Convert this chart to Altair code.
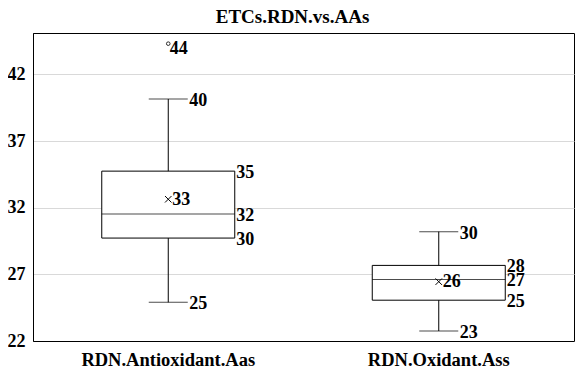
import altair as alt
import pandas as pd

# ---- data ----
categories = ["RDN.Antioxidant.Aas", "RDN.Oxidant.Ass"]
whisker_low = [24.9, 22.75]
q1 = [29.72, 25.06]
median = [31.53, 26.62]
q3 = [34.74, 27.67]
whisker_high = [40.15, 30.2]
means = [32.63, 26.45]
outlier_cat = ["RDN.Antioxidant.Aas"]
outlier_val = [44.3]

y_ticks = [22, 27, 32, 37, 42]
y_domain = [22, 45.1]
title_text = "ETCs.RDN.vs.AAs"

FONT = "Liberation Serif"

df = pd.DataFrame({
    "cat": categories,
    "lower": whisker_low,
    "q1": q1,
    "median": median,
    "q3": q3,
    "upper": whisker_high,
    "mean": means,
})
out_df = pd.DataFrame({"cat": outlier_cat, "value": outlier_val})

x = alt.X("cat:N", sort=categories,
          scale=alt.Scale(paddingInner=0, paddingOuter=0),
          axis=alt.Axis(title=None, labelAngle=0, ticks=False, grid=False,
                        domainColor="black", labelPadding=9, labelFontSize=18.5))
yscale = alt.Scale(domain=y_domain, nice=False, zero=False)
yaxis = alt.Axis(title=None, values=y_ticks, ticks=False, grid=True,
                 gridColor="#d9d9d9", domainColor="black", labelPadding=8,
                 format="d", labelFontSize=18)

base = alt.Chart(df)

box = base.mark_bar(size=133, fill="white", stroke="black", strokeWidth=1).encode(
    x=x, y=alt.Y("q1:Q", scale=yscale, axis=yaxis), y2="q3:Q")
med = base.mark_tick(size=133, thickness=1, color="black").encode(x=x, y="median:Q")
wl = base.mark_rule(color="black", strokeWidth=1).encode(x=x, y="lower:Q", y2="q1:Q")
wh = base.mark_rule(color="black", strokeWidth=1).encode(x=x, y="q3:Q", y2="upper:Q")
cap_l = base.mark_tick(size=39, thickness=1, color="black").encode(x=x, y="lower:Q")
cap_h = base.mark_tick(size=39, thickness=1, color="black").encode(x=x, y="upper:Q")
mean_pt = base.mark_point(shape="M-1,-1L1,1M-1,1L1,-1", size=42, filled=False,
                          stroke="black", strokeWidth=1, opacity=1).encode(x=x, y="mean:Q")
out_pt = alt.Chart(out_df).mark_point(shape="circle", size=13, filled=False,
                                      stroke="black", strokeWidth=0.8, opacity=1).encode(
    x=x, y="value:Q")

txt_kw = dict(font=FONT, fontSize=18, fontWeight="bold", align="left",
              baseline="middle", color="black")

box_lab = base.transform_fold(["q1", "median", "q3"], as_=["k", "v"]).mark_text(
    dx=68, dy=2, **txt_kw).encode(x=x, y="v:Q", text=alt.Text("v:Q", format=".0f"))
wh_lab = base.transform_fold(["lower", "upper"], as_=["k", "v"]).mark_text(
    dx=21, dy=2, **txt_kw).encode(x=x, y="v:Q", text=alt.Text("v:Q", format=".0f"))
mean_lab = base.mark_text(dx=4, dy=0.5, **txt_kw).encode(
    x=x, y="mean:Q", text=alt.Text("mean:Q", format=".0f"))
out_lab = alt.Chart(out_df).mark_text(dx=1.5, dy=5, **txt_kw).encode(
    x=x, y="value:Q", text=alt.Text("value:Q", format=".0f"))

chart = alt.layer(box, wl, wh, cap_l, cap_h, med, mean_pt, out_pt,
                  box_lab, wh_lab, mean_lab, out_lab).properties(
    width=541, height=308,
    background="white",
    title=alt.TitleParams(title_text, font=FONT, fontSize=19, fontWeight="bold",
                          anchor="middle", frame="group", dx=-11,
                          offset=6, color="black"),
    autosize=alt.AutoSizeParams(type="none"),
    padding={"left": 25, "top": 25, "right": 1, "bottom": 29},
).configure_view(stroke="black", strokeWidth=1).configure_axis(
    labelFont=FONT, labelFontWeight="bold", labelColor="black"
)

chart.save("out.html", embed_options={"renderer": "svg", "actions": False})
